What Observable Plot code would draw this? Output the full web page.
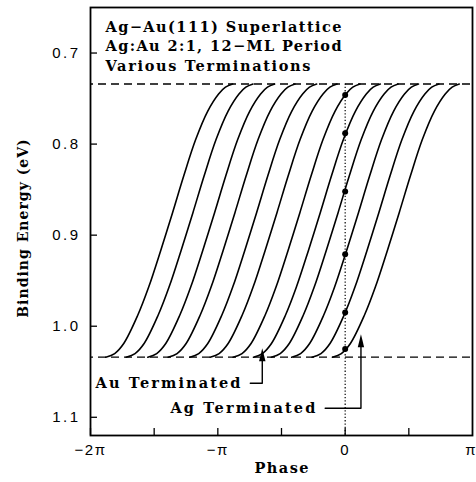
<!DOCTYPE html>
<html><head><meta charset="utf-8">
<script src="https://cdn.jsdelivr.net/npm/d3@7"></script>
<script src="https://cdn.jsdelivr.net/npm/@observablehq/plot@0.6"></script>
<style>
html,body{margin:0;padding:0;background:#fff;}
</style>
</head><body><div id="chart"></div>
<script>
const PI = Math.PI;

// Shape of one termination curve:
// phase measured from the curve's start (units of π) and binding energy (eV)
const profilePhase  = [0, 0.07, 0.141, 0.251, 0.337, 0.431, 0.525, 0.612, 0.706, 0.800, 0.886, 0.94, 0.996];
const profileEnergy = [1.034, 1.030, 1.019, 0.988, 0.957, 0.917, 0.875, 0.835, 0.795, 0.764, 0.745, 0.7375, 0.734];

// Start phase (units of π) of each of the 12 terminations
const curveStart = [-1.88, -1.72, -1.55, -1.39, -1.22, -1.06, -0.88, -0.72, -0.58, -0.42, -0.26, -0.10];

// Binding energies marked at phase 0
const dotEnergy = [0.746, 0.788, 0.852, 0.921, 0.985, 1.025];

// Limits (dashed lines)
const limitEnergy = [0.734, 1.034];

// Axis ticks
const xTickVals = [-2, -1.5, -1, -0.5, 0, 0.5].map(v => v * PI);
const xLabelVals = [-2, -1, 0, 1].map(v => v * PI);
const xLabelText = ["\u22122\u03c0", "\u2212\u03c0", "0", "\u03c0"];
const yTickVals = [0.7, 0.8, 0.9, 1.0, 1.1];
const yLabelText = ["0.7", "0.8", "0.9", "1.0", "1.1"];

// Annotations (phase in units of π, energy in eV)
const annoLabel = ["Au Terminated", "Ag Terminated"];
const annoPhase = [-1.96, -1.372];
const annoEnergy = [1.068, 1.0956];
const leaderPhase = [[-0.745, -0.651, -0.651], [-0.157, 0.124, 0.124]];
const leaderEnergy = [[1.0626, 1.0626, 1.03], [1.0901, 1.0901, 1.015]];
const arrowTipEnergy = [1.0242, 1.0088];

const titleLines = ["Ag\u2212Au(111) Superlattice", "Ag:Au 2:1, 12\u2212ML Period", "Various Terminations"];
const yTitle = "Binding Energy (eV)";
const xTitle = "Phase";

const curves = curveStart.flatMap((s, k) =>
  profilePhase.map((p, i) => ({k, phase: (s + p) * PI, energy: profileEnergy[i]})));
const dots = dotEnergy.map(e => ({phase: 0, energy: e}));
const leaders = leaderPhase.flatMap((ps, k) => ps.map((p, i) => ({k, phase: p * PI, energy: leaderEnergy[k][i]})));
const tips = arrowTipEnergy.map((e, k) => ({phase: leaderPhase[k][2] * PI, energy: e}));
const annos = annoLabel.map((t, i) => ({text: t, phase: annoPhase[i] * PI, energy: annoEnergy[i]}));

const serif = "'DejaVu Serif', 'Liberation Serif', serif";
const sans = "'Liberation Sans', Arial, sans-serif";

const arrowHead = {draw(ctx) { ctx.moveTo(0, 0); ctx.lineTo(-3.2, 13); ctx.lineTo(3.2, 13); ctx.closePath(); }};

const chart = Plot.plot({
  width: 476,
  height: 482,
  marginLeft: 90,
  marginRight: 4,
  marginTop: 7,
  marginBottom: 47,
  x: {domain: [-2 * PI, PI], axis: null},
  y: {domain: [0.65, 1.12], reverse: true, axis: null},
  marks: [
    Plot.ruleY(limitEnergy, {y: d => d, stroke: "black", strokeWidth: 1.3, strokeDasharray: "8,5", strokeDashoffset: -8}),
    Plot.ruleX([0], {x: d => d, y1: limitEnergy[0], y2: 1.12, stroke: "black", strokeWidth: 1.2, strokeDasharray: "1.3,2"}),
    Plot.line(curves, {x: "phase", y: "energy", z: "k", curve: "catmull-rom", stroke: "black", strokeWidth: 1.6}),
    Plot.dot(dots, {x: "phase", y: "energy", r: 3, fill: "black"}),
    Plot.line(leaders, {x: "phase", y: "energy", z: "k", stroke: "black", strokeWidth: 1.4}),
    Plot.dot(tips, {x: "phase", y: "energy", symbol: arrowHead, fill: "black", stroke: "none"}),
    Plot.text(annos, {x: "phase", y: "energy", text: "text", textAnchor: "start", lineAnchor: "bottom",
      fontFamily: serif, fontWeight: "bold", fontSize: 14.5, fill: "black"}),
    Plot.tickX(xTickVals, {x: d => d, insetTop: 421, stroke: "black", strokeWidth: 1.3}),
    Plot.tickY(yTickVals, {y: d => d, insetRight: 375, stroke: "black", strokeWidth: 1.3}),
    Plot.frame({stroke: "black", strokeWidth: 1.8}),
    Plot.text(xLabelVals, {x: d => d, text: (d, i) => xLabelText[i], frameAnchor: "bottom", dy: 15,
      lineAnchor: "middle", fontFamily: sans, fontSize: 15, fill: "black"}),
    Plot.text(yTickVals, {y: d => d, text: (d, i) => yLabelText[i], frameAnchor: "left", dx: -10,
      textAnchor: "end", lineAnchor: "middle", fontFamily: sans, fontSize: 15, fill: "black"}),
    Plot.text([yTitle], {text: d => d, frameAnchor: "left", textAnchor: "middle", dx: -67, dy: 7, rotate: -90,
      fontFamily: serif, fontWeight: "bold", fontSize: 14, fill: "black"}),
    Plot.text([xTitle], {text: d => d, frameAnchor: "bottom", dy: 33, lineAnchor: "middle",
      fontFamily: serif, fontWeight: "bold", fontSize: 14.5, fill: "black"}),
    ...titleLines.map((t, i) => Plot.text([t], {text: d => d, frameAnchor: "top-left", dx: 15, dy: 14 + i * 19.5, lineAnchor: "top",
      textAnchor: "start", fontFamily: serif, fontWeight: "bold", fontSize: 14.5, fill: "black"}))
  ]
});
document.getElementById("chart").appendChild(chart);

// Typewriter-like even spacing: fit each text to the width it has in the reference
const pitchOf = new Map();
titleLines.forEach(t => pitchOf.set(t, 10.35));
annoLabel.forEach(t => pitchOf.set(t, 11.3));
pitchOf.set(yTitle, 9.5);
pitchOf.set(xTitle, 11.2);
d3.select(chart).selectAll("text").each(function() {
  const t = this.textContent;
  if (pitchOf.has(t)) {
    this.setAttribute("textLength", t.length * pitchOf.get(t) - 2);
    this.setAttribute("lengthAdjust", "spacing");
  } else if (yLabelText.includes(t)) {
    this.style.letterSpacing = "2.5px";
  } else if (xLabelText.includes(t)) {
    this.style.letterSpacing = "1.5px";
    if (t === xLabelText[xLabelText.length - 1]) {
      // keep the right-most tick label inside the picture
      this.style.letterSpacing = "0px";
      this.setAttribute("text-anchor", "end");
      this.setAttribute("dx", "3");
    }
  }
});
</script>
</body></html>
